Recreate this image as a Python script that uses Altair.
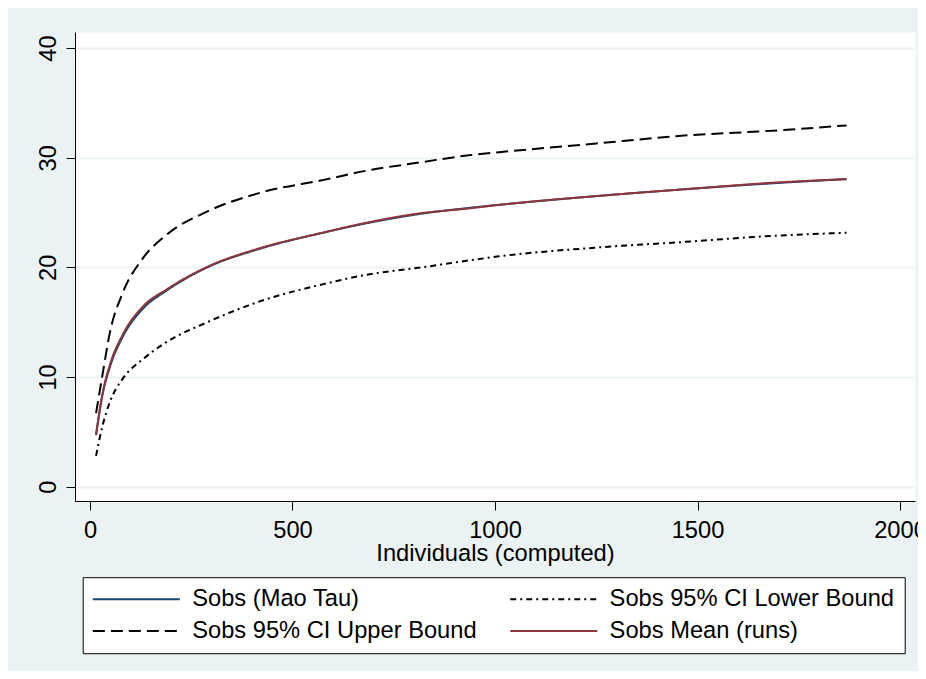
import altair as alt
import pandas as pd

# Individuals (computed)
x_vals = [15, 30, 50, 80, 130, 190, 290, 420, 580, 680, 820, 930, 1010, 1250, 1460, 1700, 1868]

mao_tau = [4.7, 8.2, 11.0, 13.6, 16.2, 17.9, 20.0, 21.7, 23.2, 24.0, 24.9, 25.4, 25.7, 26.5, 27.1, 27.7, 28.05]
mean_runs = [4.7, 8.3, 11.2, 13.8, 16.4, 18.0, 20.05, 21.75, 23.2, 24.05, 24.95, 25.35, 25.7, 26.5, 27.1, 27.75, 28.05]
upper = [6.7, 10.0, 14.2, 17.6, 20.8, 23.0, 25.1, 26.8, 28.0, 28.8, 29.6, 30.2, 30.5, 31.3, 32.0, 32.5, 32.95]
lower = [2.8, 5.4, 7.8, 9.8, 11.6, 13.2, 15.0, 16.9, 18.5, 19.3, 20.0, 20.6, 21.0, 21.8, 22.3, 22.9, 23.15]

series_names = ["Sobs (Mao Tau)", "Sobs 95% CI Lower Bound",
                "Sobs 95% CI Upper Bound", "Sobs Mean (runs)"]
series_colors = ["#1a476f", "#000000", "#000000", "#90353b"]
series_dashes = [[1, 0], [6, 4, 2, 4], [12, 6], [1, 0]]

x_ticks = [0, 500, 1000, 1500, 2000]
y_ticks = [0, 10, 20, 30, 40]

rows = []
for name, vals in zip(series_names, [mao_tau, lower, upper, mean_runs]):
    for xv, yv in zip(x_vals, vals):
        rows.append({"x": xv, "y": yv, "series": name})
df = pd.DataFrame(rows)

FONT = "Liberation Sans"
BG = "#EAF2F3"
FS = 23.7

legend_kw = dict(title=None, orient="none", legendX=7.7, legendY=545.2,
                 columns=2, direction="horizontal")

chart = alt.Chart(df).mark_line(strokeWidth=2, interpolate="monotone").encode(
    x=alt.X("x:Q",
            scale=alt.Scale(domain=[-37, 2037], nice=False, zero=False),
            axis=alt.Axis(values=x_ticks, title="Individuals (computed)", grid=False,
                          format="d", titleY=59, titleBaseline="alphabetic",
                          labelBaseline="alphabetic", labelPadding=27)),
    y=alt.Y("y:Q",
            scale=alt.Scale(domain=[-1.32, 41.47], nice=False, zero=False),
            axis=alt.Axis(values=y_ticks, title=None, grid=True, format="d",
                          labelAngle=270, labelAlign="center",
                          labelBaseline="alphabetic", labelPadding=11)),
    color=alt.Color("series:N",
                    scale=alt.Scale(domain=series_names, range=series_colors),
                    legend=alt.Legend(**legend_kw)),
    strokeDash=alt.StrokeDash("series:N",
                              scale=alt.Scale(domain=series_names, range=series_dashes),
                              legend=alt.Legend(**legend_kw)),
    order=alt.Order("x:Q"),
).properties(
    width=840,
    height=469,
    autosize=alt.AutoSizeParams(type="none"),
    padding={"left": 67, "top": 24, "right": 3, "bottom": 170},
).configure(
    background=BG,
    font=FONT,
).configure_view(
    fill="white",
    strokeOpacity=0,
).configure_axis(
    domainColor="#000000",
    domainWidth=1,
    tickColor="#000000",
    tickSize=9,
    tickWidth=1,
    labelFont=FONT,
    labelFontSize=FS,
    labelColor="#000000",
    titleFont=FONT,
    titleFontSize=FS,
    titleFontWeight="normal",
    titleColor="#000000",
    gridColor=BG,
    gridWidth=2,
).configure_legend(
    labelFont=FONT,
    labelFontSize=FS,
    labelColor="#000000",
    labelLimit=600,
    labelOffset=44,
    symbolType="M-8.7,0H8.7",
    symbolSize=100,
    symbolOffset=31.8,
    symbolStrokeWidth=2,
    fillColor="white",
    strokeColor="#000000",
    padding=10,
    columnPadding=29.4,
    rowPadding=7,
)

chart.save("out.html", embed_options={"renderer": "svg", "actions": False})
